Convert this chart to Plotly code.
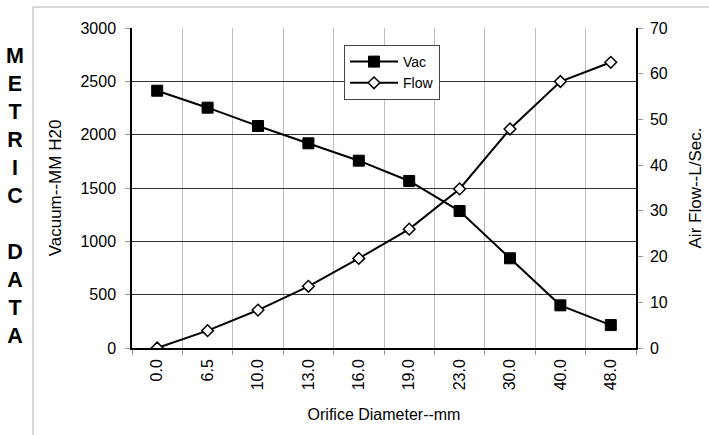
import plotly.graph_objects as go

diameters = ["0.0", "6.5", "10.0", "13.0", "16.0", "19.0", "23.0", "30.0", "40.0", "48.0"]
vac = [2412, 2253, 2081, 1919, 1756, 1566, 1284, 841, 400, 215]
flow = [0.0, 3.8, 8.3, 13.5, 19.6, 26.0, 34.8, 47.9, 58.3, 62.5]
vac_ticks = [0, 500, 1000, 1500, 2000, 2500, 3000]
flow_ticks = [0, 10, 20, 30, 40, 50, 60, 70]

W, H = 709, 435
L, R, T, B = 132, 636, 28, 348

def px(x):
    return (x - L) / (R - L)

def py(y):
    return (B - y) / (B - T)

FONT = "Liberation Sans, Arial, sans-serif"

fig = go.Figure()
fig.add_trace(go.Scatter(
    x=diameters, y=vac, name="Vac", mode="lines+markers",
    line=dict(color="black", width=2),
    marker=dict(symbol="square", size=11, color="black", line=dict(color="black", width=1)),
    yaxis="y",
))
fig.add_trace(go.Scatter(
    x=diameters, y=flow, name="Flow", mode="lines+markers",
    line=dict(color="black", width=2),
    marker=dict(symbol="diamond", size=9, color="white", line=dict(color="black", width=1.5)),
    yaxis="y2",
))

fig.update_layout(
    width=W, height=H,
    margin=dict(l=L, r=W - R, t=T, b=H - B, pad=0, autoexpand=False),
    paper_bgcolor="white", plot_bgcolor="white",
    font=dict(family=FONT, size=16, color="black"),
    showlegend=True,
    legend=dict(
        x=px(344), y=py(45), xanchor="left", yanchor="top",
        bgcolor="white", bordercolor="#444", borderwidth=1,
        font=dict(size=14), tracegroupgap=2, itemwidth=48,
    ),
    xaxis=dict(
        type="category", tickson="boundaries", automargin=False,
        showline=True, linecolor="black", linewidth=1.5,
        showgrid=True, gridcolor="#bdbdbd", gridwidth=1,
        ticks="outside", ticklen=5, tickcolor="#999",
        tickangle=-90, tickfont=dict(size=16), ticklabelstandoff=3,
        title=dict(text="Orifice Diameter--mm", font=dict(size=16), standoff=20),
        range=[-0.5, 9.5], zeroline=False,
    ),
    yaxis=dict(
        range=[0, 3000], tickvals=vac_ticks, automargin=False,
        showline=True, linecolor="black", linewidth=1.5,
        showgrid=True, gridcolor="#333", gridwidth=1,
        ticks="outside", ticklen=5, tickcolor="#999",
        ticklabelstandoff=6,
        title=dict(text="Vacuum--MM H20", font=dict(size=17), standoff=15),
        zeroline=False,
    ),
    yaxis2=dict(
        range=[0, 70], tickvals=flow_ticks, overlaying="y", side="right",
        automargin=False,
        showline=True, linecolor="black", linewidth=1.5,
        showgrid=False,
        ticks="outside", ticklen=5, tickcolor="#999",
        ticklabelstandoff=4,
        title=dict(text="Air Flow--L/Sec.", font=dict(size=17), standoff=22),
        zeroline=False,
    ),
    annotations=[
        dict(
            text="<b>M<br>E<br>T<br>R<br>I<br>C<br><br>D<br>A<br>T<br>A</b>",
            x=px(15), y=py(196), xref="paper", yref="paper",
            xanchor="center", yanchor="middle", showarrow=False,
            font=dict(family=FONT, size=21.5, color="black"),
        ),
    ],
    shapes=[
        dict(type="line", xref="paper", yref="paper",
             x0=px(33), x1=px(33), y0=py(7), y1=py(440),
             line=dict(color="#b0b0b0", width=1)),
        dict(type="line", xref="paper", yref="paper",
             x0=px(33), x1=px(715), y0=py(7), y1=py(7),
             line=dict(color="#b0b0b0", width=1)),
    ],
)

fig.write_html("out.html", config={"displayModeBar": False},
               post_script="document.body.style.margin='0';")
